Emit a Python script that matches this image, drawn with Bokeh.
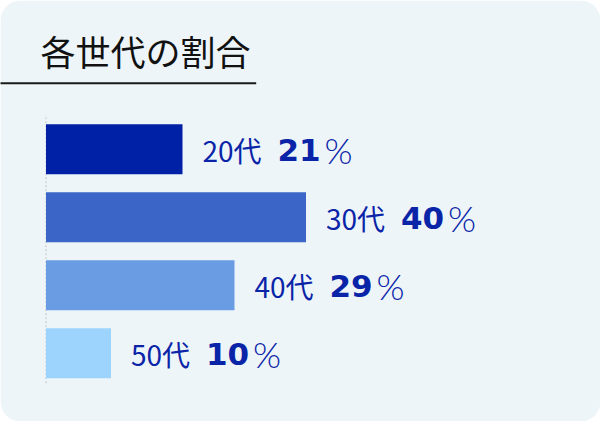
from bokeh.plotting import figure
from bokeh.models import ColumnDataSource, Range1d, BoxAnnotation
from bokeh.core.properties import value
from bokeh.embed import file_html
from bokeh.resources import INLINE

title_text = "各世代の割合"
ages = ["20代", "30代", "40代", "50代"]
shares = [21, 40, 29, 10]
bar_colors = ["#0021a6", "#3b66c8", "#6a9ce3", "#9cd4fe"]

W, H = 600, 421
PX_PER_PCT = 6.5   # pixels per percent on the x scale
ROW = 68           # pixels between bar centres
X0 = 45.5          # pixel where 0% sits
Y0 = 148.7         # pixel centre of the first bar

x_start = -X0 / PX_PER_PCT
y_top = -Y0 / ROW


def fx(px):
    return x_start + px / PX_PER_PCT


def fy(py):
    return y_top + py / ROW


source = ColumnDataSource(dict(
    y=list(range(len(ages))),
    age=ages,
    share=shares,
    num=[str(s) for s in shares],
    pct=["%"] * len(shares),
    color=bar_colors,
))

p = figure(
    width=W, height=H,
    x_range=Range1d(x_start, fx(W)),
    y_range=Range1d(fy(H), y_top),
    output_backend="svg",
    toolbar_location=None,
    tools="",
    min_border=0,
    x_axis_location=None,
    y_axis_location=None,
)
p.grid.visible = False
p.outline_line_color = None
p.background_fill_color = "white"
p.border_fill_color = "white"

card = BoxAnnotation(fill_color="#eef5f8", fill_alpha=1, line_color=None,
                     border_radius=20, level="underlay")
p.add_layout(card)

# title and underline
p.text(x=[fx(40)], y=[fy(50)], text=[title_text],
       text_font=value("Noto Sans CJK JP"), text_font_size="35px",
       text_color="#111111", text_baseline="middle", text_align="left")
p.segment(x0=[fx(-5)], y0=[fy(82.7)], x1=[fx(255.7)], y1=[fy(82.7)],
          line_color="#1a1a1a", line_width=2)

# thin dotted axis line
p.segment(x0=[0], y0=[-0.47], x1=[0], y1=[len(ages) - 1 + 0.47],
          line_color="#bfc3c8", line_width=1, line_dash="2 2")

p.hbar(y="y", left=0, right="share", height=50 / ROW, source=source,
       fill_color="color", line_color=None)

label_color = "#0a24a8"
p.text(x="share", y="y", text="age", source=source, x_offset=20, y_offset=1,
       text_font=value("Noto Sans CJK JP"),
       text_font_size="28px", text_color=label_color,
       text_baseline="middle", text_align="left")
p.text(x="share", y="y", text="num", source=source, x_offset=95, y_offset=1,
       text_font=value("DejaVu Sans"), text_font_style="bold",
       text_font_size="31px", text_color=label_color,
       text_baseline="middle", text_align="left")
p.text(x="share", y="y", text="pct", source=source, x_offset=142, y_offset=1,
       text_font=value("'Lato Light', Lato"), text_font_size="36px",
       text_color=label_color,
       text_baseline="middle", text_align="left")

open("out.html", "w").write(file_html(p, INLINE))
